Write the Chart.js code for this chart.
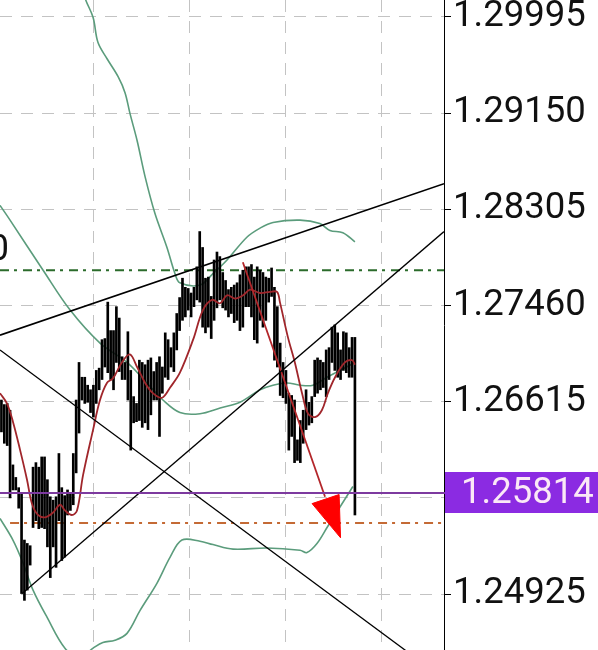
<!DOCTYPE html>
<html>
<head>
<meta charset="utf-8">
<script src="https://cdn.jsdelivr.net/npm/chart.js@4.4.1/dist/chart.umd.min.js"></script>
<style>
  html, body { margin: 0; padding: 0; background: #fff; }
  #wrap { width: 598px; height: 650px; position: relative; }
</style>
</head>
<body>
<div id="wrap"><canvas id="chart"></canvas></div>
<script>
// ── Data ─────────────────────────────────────────────────────────────────────

// bar highs / lows, one per bar (oldest first)
const highs = [
  1.2663, 1.2659, 1.2660, 1.2654, 1.2606, 1.2595, 1.2586, 1.2581, 1.2540, 1.2537,
  1.2535, 1.2604, 1.2608, 1.2604, 1.2613, 1.2613, 1.2593, 1.2578, 1.2575, 1.2578,
  1.2616, 1.2586, 1.2579, 1.2584, 1.2581, 1.2616, 1.2663, 1.2696, 1.2683, 1.2683,
  1.2676, 1.2672, 1.2676, 1.2689, 1.2691, 1.2716, 1.2717, 1.2749, 1.2724, 1.2724,
  1.2745, 1.2735, 1.2701, 1.2696, 1.2723, 1.2689, 1.2666, 1.2660, 1.2698, 1.2696,
  1.2694, 1.2698, 1.2700, 1.2688, 1.2696, 1.2701, 1.2692, 1.2722, 1.2716, 1.2709,
  1.2722, 1.2739, 1.2753, 1.2770, 1.2762, 1.2761, 1.2757, 1.2762, 1.2780, 1.2811,
  1.2797, 1.2770, 1.2771, 1.2754, 1.2786, 1.2793, 1.2789, 1.2775, 1.2768, 1.2760,
  1.2762, 1.2764, 1.2766, 1.2773, 1.2777, 1.2780, 1.2780, 1.2782, 1.2771, 1.2780,
  1.2777, 1.2775, 1.2771, 1.2770, 1.2779, 1.2762, 1.2745, 1.2713, 1.2696, 1.2689,
  1.2669, 1.2667, 1.2663, 1.2628, 1.2645, 1.2654, 1.2672, 1.2661, 1.2666, 1.2698,
  1.2700, 1.2698, 1.2696, 1.2707, 1.2709, 1.2727, 1.2729, 1.2722, 1.2707, 1.2723,
  1.2722, 1.2709, 1.2718, 1.2718
];
const lows = [
  1.2635, 1.2625, 1.2623, 1.2577, 1.2584, 1.2584, 1.2568, 1.2493, 1.2487, 1.2496,
  1.2518, 1.2551, 1.2557, 1.2550, 1.2551, 1.2550, 1.2534, 1.2507, 1.2534, 1.2516,
  1.2557, 1.2522, 1.2525, 1.2562, 1.2566, 1.2571, 1.2599, 1.2634, 1.2663, 1.2660,
  1.2661, 1.2652, 1.2648, 1.2660, 1.2672, 1.2681, 1.2692, 1.2687, 1.2681, 1.2672,
  1.2696, 1.2688, 1.2681, 1.2681, 1.2663, 1.2619, 1.2643, 1.2644, 1.2645, 1.2639,
  1.2643, 1.2637, 1.2650, 1.2663, 1.2663, 1.2631, 1.2669, 1.2683, 1.2681, 1.2692,
  1.2688, 1.2707, 1.2724, 1.2733, 1.2736, 1.2742, 1.2736, 1.2745, 1.2751, 1.2749,
  1.2727, 1.2722, 1.2727, 1.2717, 1.2733, 1.2744, 1.2751, 1.2744, 1.2742, 1.2736,
  1.2739, 1.2731, 1.2733, 1.2724, 1.2727, 1.2745, 1.2745, 1.2736, 1.2716, 1.2713,
  1.2733, 1.2727, 1.2733, 1.2749, 1.2754, 1.2698, 1.2692, 1.2667, 1.2665, 1.2660,
  1.2619, 1.2631, 1.2608, 1.2610, 1.2608, 1.2625, 1.2637, 1.2641, 1.2643, 1.2666,
  1.2669, 1.2672, 1.2674, 1.2666, 1.2681, 1.2696, 1.2689, 1.2683, 1.2681, 1.2689,
  1.2687, 1.2683, 1.2683, 1.2562
];

// moving average (red) read at [bar index, price]
const maLine = [
  [-0.5, 1.2669], [1.9, 1.2660], [4.0, 1.2644], [6.5, 1.2619], [8.9, 1.2593],
  [10.6, 1.2572], [12.7, 1.2562], [15.2, 1.2560], [17.9, 1.2564], [20.4, 1.2571],
  [22.1, 1.2566], [24.5, 1.2562], [26.3, 1.2566], [28.4, 1.2597], [31.9, 1.2637],
  [34.3, 1.2663], [36.7, 1.2678], [38.8, 1.2682], [41.9, 1.2696], [44.7, 1.2703],
  [47.2, 1.2692], [50.0, 1.2678], [52.7, 1.2669], [55.9, 1.2665], [58.7, 1.2674],
  [62.1, 1.2687], [66.7, 1.2716], [70.1, 1.2742], [73.3, 1.2751], [76.1, 1.2748],
  [78.5, 1.2755], [81.3, 1.2752], [84.1, 1.2755], [86.5, 1.2760], [90.0, 1.2757],
  [93.4, 1.2758], [95.9, 1.2758], [96.9, 1.2749], [99.7, 1.2718], [102.1, 1.2696],
  [104.6, 1.2669], [106.7, 1.2651], [109.1, 1.2648], [111.5, 1.2654], [113.6, 1.2669],
  [116.1, 1.2683], [119.5, 1.2696], [122.0, 1.2698], [123.0, 1.2694]
];

// bollinger bands (green)
const bbUpper = [
  [28.7, 1.3021], [29.4, 1.3014], [31.9, 1.2999], [33.6, 1.2977], [36.7, 1.2963],
  [40.6, 1.2947], [43.0, 1.2933], [44.7, 1.2915], [47.2, 1.2891], [50.0, 1.2859],
  [53.4, 1.2827], [57.6, 1.2797], [60.4, 1.2774], [62.1, 1.2766], [69.1, 1.2764],
  [73.6, 1.2774], [78.5, 1.2786], [85.4, 1.2806], [90.0, 1.2814], [94.5, 1.2819],
  [103.9, 1.2821], [110.8, 1.2818], [114.3, 1.2812], [118.8, 1.2810], [123.0, 1.2802]
];
const bbMiddle = [
  [-0.5, 1.2834], [3.0, 1.2821], [14.5, 1.2777], [23.9, 1.2742], [34.3, 1.2713],
  [43.7, 1.2696], [50.6, 1.2678], [56.2, 1.2663], [62.1, 1.2652], [69.1, 1.2651],
  [76.1, 1.2656], [83.0, 1.2661], [90.0, 1.2672], [94.5, 1.2676], [99.4, 1.2678],
  [103.9, 1.2676], [108.4, 1.2676], [113.3, 1.2683], [117.8, 1.2689], [123.0, 1.2696]
];
const bbLower = [
  [-0.5, 1.2559], [4.0, 1.2540], [7.5, 1.2520], [11.0, 1.2496], [15.9, 1.2472],
  [22.1, 1.2445], [27.3, 1.2437], [31.9, 1.2445], [35.3, 1.2450], [39.5, 1.2452],
  [43.7, 1.2458], [48.2, 1.2478], [54.1, 1.2502], [58.7, 1.2525], [62.8, 1.2540],
  [69.1, 1.2539], [73.6, 1.2536], [80.6, 1.2532], [92.4, 1.2533], [103.9, 1.2531],
  [106.3, 1.2529], [109.8, 1.2537], [113.3, 1.2551], [117.8, 1.2569], [122.3, 1.2587]
];

// drawn objects
const trendUpper   = [[-0.5, 1.2720], [154, 1.2853]];
const trendLower   = [[7.2, 1.2493], [154, 1.2811]];
const trendFalling = [[-0.5, 1.2707], [154, 1.2418]];
const arrowShaft   = [[84.0, 1.2784], [112.6, 1.2578]];
const arrowHead    = [[108.1, 1.2572], [117.5, 1.2580], [118.0, 1.2542], [108.1, 1.2572]];
const levelGreen   = 1.2777;
const levelOrange  = 1.2555;
const lastPrice    = 1.25814;

// axes
const yTicks = [1.24925, 1.25770, 1.26615, 1.27460, 1.28305, 1.29150, 1.29995];
const timeGrid = [31.9, 65.3, 98.7, 132.1];
const X_MAX = 154;

// ── Helpers ──────────────────────────────────────────────────────────────────

const pts = arr => arr.map(([x, y]) => ({ x, y }));
const AXIS_FONT = { family: 'Roboto', size: 36.5 };
const GRID_DASH = [12, 9];

function lineSet(data, color, width, order, extra) {
  return Object.assign({
    type: 'line', data: pts(data), borderColor: color, borderWidth: width,
    pointRadius: 0, tension: 0.35, fill: false, order,
  }, extra || {});
}

function noPad(s) {
  s.paddingTop = 0; s.paddingBottom = 0;
  s.paddingLeft = 0; s.paddingRight = 0;
}

// ── Overlay plugin: last price line + tag, level label ───────────────────────

const overlay = {
  id: 'overlay',
  afterDatasetsDraw(chart) {
    const { ctx, chartArea: a, scales: { y } } = chart;
    const py = Math.round(y.getPixelForValue(lastPrice));
    ctx.save();
    ctx.strokeStyle = '#7d3a9f';
    ctx.lineWidth = 2;
    ctx.beginPath();
    ctx.moveTo(a.left, py);
    ctx.lineTo(a.right + 1, py);
    ctx.stroke();

    ctx.fillStyle = '#8b2be2';
    ctx.fillRect(a.right + 1, py - 21, chart.width - a.right, 41);
    ctx.fillStyle = '#fbe8f6';
    ctx.font = `${AXIS_FONT.size}px ${AXIS_FONT.family}`;
    ctx.textAlign = 'left';
    ctx.textBaseline = 'middle';
    ctx.fillText(lastPrice.toFixed(5), a.right + 17, py + 1);

    // level label, clipped at the left edge
    const gy = y.getPixelForValue(levelGreen);
    ctx.fillStyle = '#111';
    ctx.textAlign = 'right';
    ctx.textBaseline = 'alphabetic';
    ctx.fillText(levelGreen.toFixed(5), a.left + 9, gy - 10);
    ctx.restore();
  }
};

// ── Chart ────────────────────────────────────────────────────────────────────

const bars = highs.map((h, i) => ({ x: i, y: [lows[i], h] }));
const flat = v => [[-0.5, v], [X_MAX, v]];

new Chart(document.getElementById('chart'), {
  type: 'line',
  data: {
    datasets: [
      lineSet(trendUpper, '#000', 1.6, 1, { tension: 0 }),
      lineSet(trendLower, '#000', 1.3, 1, { tension: 0 }),
      lineSet(trendFalling, '#000', 1.3, 1, { tension: 0 }),
      lineSet(arrowHead, '#ff0000', 1, 2, { tension: 0, fill: 'shape', backgroundColor: '#ff0000' }),
      lineSet(arrowShaft, '#b3262a', 1.8, 2, { tension: 0 }),
      lineSet(maLine, '#a0262b', 1.8, 3),
      {
        type: 'bar', data: bars, backgroundColor: '#000', borderWidth: 0,
        barThickness: 2, order: 4, grouped: false,
      },
      lineSet(bbUpper, '#5b9c7c', 1.6, 5),
      lineSet(bbMiddle, '#5b9c7c', 1.6, 5),
      lineSet(bbLower, '#5b9c7c', 1.6, 5),
      lineSet(flat(levelGreen), '#2b6b2b', 2, 6, { tension: 0, borderDash: [9, 5, 3, 6] }),
      lineSet([[3, levelOrange], [X_MAX, levelOrange]], '#c46a35', 2, 6, { tension: 0, borderDash: [9, 5, 3, 6] }),
    ]
  },
  options: {
    animation: false,
    responsive: true,
    maintainAspectRatio: false,
    layout: { padding: 0 },
    plugins: { legend: { display: false }, tooltip: { enabled: false } },
    scales: {
      x: {
        type: 'linear', min: -0.5, max: X_MAX, offset: false,
        afterBuildTicks: s => { s.ticks = timeGrid.map(v => ({ value: v })); },
        afterFit: s => { s.height = 0; noPad(s); },
        ticks: { display: false },
        border: { display: false, dash: GRID_DASH },
        grid: { color: '#c3c3c3', lineWidth: 1, drawTicks: false, offset: false },
      },
      y: {
        position: 'right', min: 1.24434, max: 1.30144,
        afterBuildTicks: s => { s.ticks = yTicks.map(v => ({ value: v })); },
        afterFit: s => { s.width = 154; noPad(s); },
        ticks: {
          color: '#111', font: AXIS_FONT, padding: 2,
          callback: v => v.toFixed(5),
        },
        border: { display: true, color: '#000', width: 1, dash: GRID_DASH },
        grid: {
          color: '#c3c3c3', lineWidth: 1,
          tickLength: 7, tickColor: '#000', tickBorderDash: [],
        },
      },
    },
  },
  plugins: [overlay],
});
</script>
</body>
</html>
